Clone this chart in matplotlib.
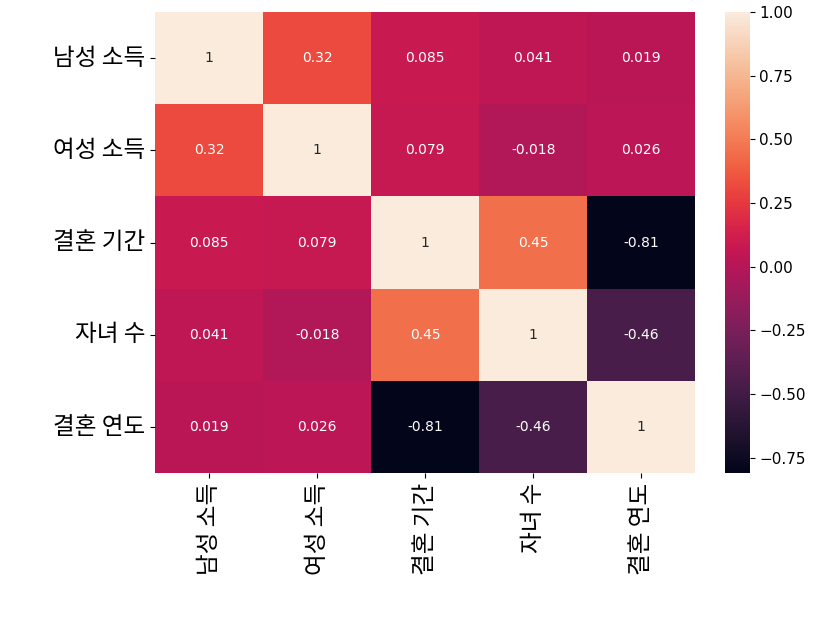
import matplotlib
matplotlib.use('Agg')
import matplotlib.pyplot as plt
import seaborn as sns
import numpy as np
import pandas as pd

labels = ['남성 소득', '여성 소득', '결혼 기간', '자녀 수', '결혼 연도']

corr_values = [
    [1.0, 0.32, 0.085, 0.041, 0.019],
    [0.32, 1.0, 0.079, -0.018, 0.026],
    [0.085, 0.079, 1.0, 0.45, -0.81],
    [0.041, -0.018, 0.45, 1.0, -0.46],
    [0.019, 0.026, -0.81, -0.46, 1.0],
]

corr = pd.DataFrame(corr_values, index=labels, columns=labels)

plt.rcParams['font.family'] = ['Noto Sans CJK KR', 'DejaVu Sans']

fig = plt.figure(figsize=(8.13, 6.3), dpi=100)
ax = fig.add_axes([0.191, 0.249, 0.664, 0.732])
cax = fig.add_axes([0.892, 0.249, 0.030, 0.732])

sns.heatmap(corr, annot=True, ax=ax, cbar_ax=cax,
            annot_kws={'fontsize': 10, 'family': 'DejaVu Sans'})

ax.set_xticklabels(labels, rotation=90, fontsize=17)
ax.set_yticklabels(labels, rotation=0, fontsize=17)
for t in cax.get_yticklabels():
    t.set_family('DejaVu Sans')
    t.set_fontsize(11)

fig.savefig('out.png', dpi=100)
